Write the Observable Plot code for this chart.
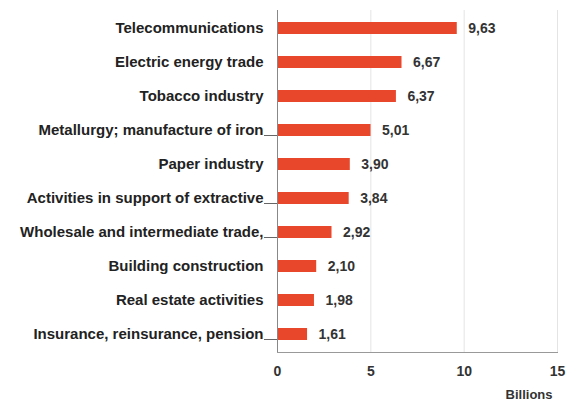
<!DOCTYPE html>
<html><head><meta charset="utf-8">
<script src="https://cdn.jsdelivr.net/npm/d3@7"></script>
<script src="https://cdn.jsdelivr.net/npm/@observablehq/plot@0.6"></script>
<style>body{margin:0;background:#fff;font-family:"Liberation Sans",Arial,sans-serif}</style>
</head><body><div id="chart"></div>
<script>
const categories = ["Telecommunications","Electric energy trade","Tobacco industry","Metallurgy; manufacture of iron","Paper industry","Activities in support of extractive","Wholesale and intermediate trade,","Building construction","Real estate activities","Insurance, reinsurance, pension"];
const truncated = ["Metallurgy; manufacture of iron","Activities in support of extractive","Wholesale and intermediate trade,","Insurance, reinsurance, pension"];
const values = [9.63,6.67,6.37,5.01,3.90,3.84,2.92,2.10,1.98,1.61];
const xTicks = [0,5,10,15];
const xLabel = "Billions";
const data = categories.map((c,i)=>({c, v: values[i]}));
const fmt = v => v.toFixed(2).replace(".", ",");
const chart = Plot.plot({
  width: 574, height: 405,
  marginLeft: 277, marginRight: 17, marginTop: 10, marginBottom: 53,
  style: {fontFamily: "'Liberation Sans', Arial, sans-serif", fontSize: "14px", color: "#222"},
  x: {domain: [0,15], ticks: xTicks},
  y: {domain: categories, paddingInner: 0.66, paddingOuter: 0.33},
  marks: [
    Plot.gridX(xTicks.filter(d=>d>0), {stroke: "#e4e4e4", strokeOpacity: 1}),
    Plot.barX(data, {x: "v", y: "c", fill: "#e8472b"}),
    Plot.text(data, {x: "v", y: "c", text: d=>fmt(d.v), textAnchor: "start", dx: 11, fill: "#333", fontWeight: "bold", letterSpacing: "-0.3px"}),
    Plot.axisX({ticks: xTicks, tickSize: 0, tickPadding: 14, label: null, fontWeight: "bold", fontSize: 14, fill: "#333"}),
    Plot.text([xLabel], {frameAnchor: "bottom-right", text: d=>d, textAnchor: "end", lineAnchor: "middle", dx: -5, dy: 42, fontWeight: "bold", fontSize: 13, fill: "#333", letterSpacing: "-0.3px"}),
    Plot.axisY({tickSize: 0, tickPadding: 14, label: null, fontWeight: "bold", fontSize: 15, fill: "#222", letterSpacing: "-0.4px"}),
    Plot.axisY({ticks: truncated, tickSize: 13, text: null, label: null, stroke: "#666", dy: 5}),
    Plot.ruleX([0], {stroke: "#888"}),
    Plot.frame({anchor: "bottom", stroke: "#999"})
  ]
});
document.getElementById("chart").appendChild(chart);
</script></body></html>
